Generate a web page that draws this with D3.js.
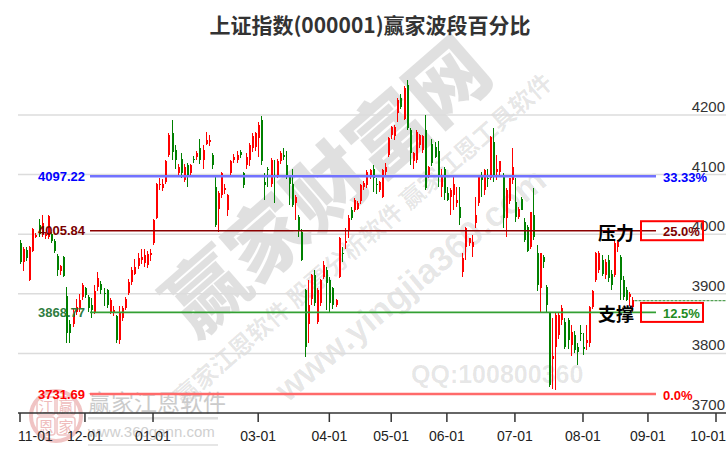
<!DOCTYPE html>
<html><head><meta charset="utf-8">
<script src="https://cdn.jsdelivr.net/npm/d3@7"></script>
<style>body{margin:0;background:#fff}svg{display:block}</style>
</head><body>
<svg id="c" width="726" height="450"></svg>
<script>
// ---------- data ----------
const opens = [3986,3954,3973,3923,3972,3995,4015,4001,3997,3996,4001,3989,3963,3939,3961,3896,3850,3850,3870,3876,
3895,3909,3895,3881,3870,3912,3917,3902,3906,3870,3869,3862,3822,3859,3876,3901,3919,3934,3946,3957,
3951,3948,3965,3985,4027,4083,4077,4088,4133,4169,4141,4102,4127,4091,4116,4102,4127,4130,4144,4124,
4152,4155,4133,4080,4043,4066,4075,4041,4102,4124,4124,4138,4102,4116,4125,4144,4147,4161,4192,4088,
4110,4085,4098,4099,4122,4133,4116,4097,4085,4052,4029,4004,3906,3850,3892,3931,3853,3884,3929,3940,
3923,3909,3881,3929,3968,3985,4007,4041,4041,4043,4055,4080,4083,4097,4110,4084,4074,4063,4105,4133,
4166,4164,4203,4229,4194,4250,4175,4122,4125,4150,4141,4175,4099,4152,4147,4140,4080,4110,4069,4063,
4066,4052,4046,3937,3979,3985,3979,4018,4052,4097,4074,4094,4094,4155,4105,4105,4099,4027,4055,4091,
4054,4029,4059,4021,4012,3979,4032,3968,3909,3962,3912,3867,3790,3811,3831,3856,3853,3856,3814,3831,
3811,3834,3811,3817,3817,3878,3923,3940,3957,3932,3957,3934,3932,3979,3962,3923,3906,3895,3878];
const highs = [3990,3978,3978,3981,4010,4002,4025,4033,4004,4032,4004,3992,3967,3949,3964,3912,3856,3875,3892,3900,
3918,3912,3898,3893,3914,3937,3922,3910,3908,3893,3880,3864,3880,3880,3895,3925,3945,3958,3968,3975,
3975,3972,3975,4026,4086,4095,4092,4124,4170,4191,4150,4118,4137,4117,4120,4118,4131,4140,4160,4150,
4172,4166,4137,4100,4072,4105,4085,4068,4125,4135,4140,4142,4105,4136,4153,4170,4172,4189,4198,4102,
4113,4128,4124,4126,4140,4144,4140,4100,4110,4066,4032,4008,3908,3923,3934,3940,3910,3925,3955,3945,
3928,3912,3892,3996,3979,4011,4032,4045,4060,4055,4085,4090,4108,4110,4116,4094,4090,4110,4119,4163,
4182,4183,4228,4235,4248,4259,4178,4138,4175,4168,4166,4200,4115,4160,4155,4156,4110,4113,4080,4077,
4097,4080,4080,3968,4012,3993,3999,4063,4097,4105,4110,4110,4165,4178,4133,4122,4102,4077,4094,4144,
4094,4046,4062,4027,4015,4038,4077,3982,3968,3965,3915,3868,3859,3867,3870,3881,3859,3860,3848,3838,
3817,3847,3834,3848,3880,3906,3970,3972,3965,3958,3965,3940,3990,3990,3965,3930,3912,3903,3895];
const lows = [3950,3938,3955,3921,3970,3993,3996,3995,3992,3992,3986,3969,3930,3932,3928,3817,3817,3845,3865,3870,
3890,3893,3870,3860,3866,3905,3900,3880,3877,3866,3862,3818,3816,3855,3872,3898,3915,3931,3942,3950,
3945,3943,3955,3982,4025,4075,4072,4085,4130,4125,4110,4098,4095,4088,4080,4100,4120,4125,4118,4110,
4150,4148,4110,4012,4004,4060,4068,4030,4098,4120,4120,4128,4078,4110,4115,4138,4140,4130,4116,4057,
4079,4080,4052,4095,4118,4124,4092,4049,4045,4023,3996,3955,3794,3817,3881,3880,3850,3880,3925,3873,
3870,3875,3878,3926,3954,3976,3993,4024,4038,4040,4050,4075,4078,4093,4071,4068,4070,4060,4100,4130,
4160,4158,4189,4210,4192,4175,4116,4110,4120,4145,4136,4074,4095,4115,4128,4080,4063,4057,4055,4032,
4041,4046,4015,3929,3957,3980,3962,4010,4048,4063,4066,4080,4091,4088,4091,4100,4010,3996,4050,4085,
4021,4025,4040,3987,3970,3976,3990,3904,3870,3943,3870,3744,3741,3738,3825,3848,3808,3808,3795,3800,
3780,3820,3797,3806,3810,3874,3920,3935,3930,3925,3920,3906,3928,3970,3890,3890,3888,3880,3870];
const closes = [3954,3976,3960,3979,4008,3999,4000,4019,4001,4030,3989,3971,3940,3946,3930,3834,3834,3870,3878,3890,
3915,3898,3876,3873,3904,3926,3906,3901,3881,3890,3872,3822,3870,3876,3891,3919,3940,3945,3960,3962,
3965,3966,3968,4024,4084,4085,4084,4122,4166,4138,4124,4113,4102,4113,4099,4116,4124,4136,4124,4141,
4158,4158,4116,4015,4069,4102,4077,4066,4122,4130,4133,4133,4082,4130,4150,4164,4169,4183,4122,4083,
4108,4124,4097,4122,4136,4130,4097,4085,4049,4063,4007,3957,3811,3881,3931,3884,3906,3923,3948,3918,
3884,3881,3890,3994,3966,3989,4027,4027,4057,4052,4082,4086,4105,4108,4094,4082,4088,4108,4113,4161,
4180,4180,4225,4214,4245,4178,4136,4136,4172,4166,4164,4077,4113,4119,4130,4096,4096,4069,4057,4074,
4085,4057,4027,3960,4010,3993,3987,4032,4097,4091,4108,4093,4163,4099,4110,4122,4027,4074,4094,4113,
4029,4043,4041,3990,3971,4038,3996,3915,3968,3954,3881,3747,3795,3864,3864,3877,3811,3823,3836,3806,
3803,3833,3808,3822,3878,3904,3968,3968,3934,3954,3926,3915,3985,3987,3923,3895,3890,3900,3889];

const tickIndex  = [0, 21, 43, 77, 100, 120, 138, 160, 182, 203, 225];
const tickLabels = ['11-01','12-01','01-01','03-01','04-01','05-01','06-01','07-01','08-01','09-01','10-01'];
const yTickValues = [3700, 3800, 3900, 4000, 4100, 4200];
const levelValues = [4097.22, 4005.84, 3868.77, 3731.69];
const levelLabels = ['4097.22', '4005.84', '3868.77', '3731.69'];
const levelPercents = ['33.33%', '25.0%', '12.5%', '0.0%'];
const levelNotes = ['', '压力', '支撑', ''];
const lastPrice = 3888.4;
const titleText = '上证指数(000001)赢家波段百分比';

// ---------- styles ----------
const levelLine = ['#7272ff', '#8b0000', '#33a033', '#ff6a6a'];
const levelText = ['#0000ff', '#7a0000', '#2f7d3f', '#ff0000'];
const levelWidth = [2.5, 1.6, 1.6, 2.5];
const boxed = [false, true, true, false];
const pctText = ['#0000ff', '#800000', '#228b22', '#ff0000'];

const svg = d3.select('#c');
const W = 726, H = 450;
svg.append('rect').attr('width', W).attr('height', H).attr('fill', '#fff');

const x = d3.scaleLinear().domain([0, 225]).range([20, 716]);
const y = d3.scaleLinear().domain([3700, 4200]).range([413, 115]);

// ---------- watermarks ----------
const wm = svg.append('g');
wm.append('text').attr('transform', 'translate(323,182) rotate(-41)')
  .attr('text-anchor', 'middle').attr('dominant-baseline', 'central')
  .attr('font-family', 'Noto Sans CJK SC').attr('font-weight', 900)
  .attr('font-size', 80).attr('fill', '#000').attr('fill-opacity', 0.12)
  .text('赢家财富网');
wm.append('text').attr('transform', 'translate(362,238) rotate(-41)')
  .attr('text-anchor', 'middle').attr('dominant-baseline', 'central')
  .attr('font-family', 'Noto Sans CJK SC').attr('font-weight', 700)
  .attr('font-size', 24).attr('fill', '#000').attr('fill-opacity', 0.1)
  .text('赢家江恩软件   股票分析软件   赢家江恩工具软件');
wm.append('text').attr('transform', 'translate(410,284) rotate(-40)')
  .attr('text-anchor', 'middle').attr('dominant-baseline', 'central')
  .attr('font-family', 'Liberation Sans').attr('font-weight', 700)
  .attr('font-size', 35).attr('fill', '#000').attr('fill-opacity', 0.1)
  .text('www.yingjia360.com');
wm.append('text').attr('x', 411).attr('y', 383)
  .attr('font-family', 'Liberation Sans').attr('font-weight', 700)
  .attr('font-size', 25).attr('fill', '#000').attr('fill-opacity', 0.1)
  .text('QQ:100800360');
// logo
const logo = wm.append('g');
logo.append('circle').attr('cx', 56).attr('cy', 416).attr('r', 25)
  .attr('fill', 'none').attr('stroke', '#f0c4c4').attr('stroke-width', 4);
const logoChars = [['江', 37, 397], ['赢', 57, 397], ['恩', 37, 417], ['家', 57, 417]];
logoChars.forEach(d => {
  logo.append('rect').attr('x', d[1]).attr('y', d[2]).attr('width', 18).attr('height', 18)
    .attr('rx', 3).attr('fill', 'none').attr('stroke', '#f0c4c4').attr('stroke-width', 1.5);
  logo.append('text').attr('x', d[1] + 9).attr('y', d[2] + 15).attr('text-anchor', 'middle')
    .attr('font-family', 'Noto Sans CJK SC').attr('font-size', 15).attr('fill', '#efbcbc').text(d[0]);
});
logo.append('text').attr('x', 88).attr('y', 411)
  .attr('font-family', 'Noto Sans CJK SC').attr('font-size', 23).attr('fill', '#cbcbcb')
  .text('赢家江恩软件');
logo.append('rect').attr('x', 88).attr('y', 417).attr('width', 130).attr('height', 2.5).attr('fill', '#dedede');
logo.append('text').attr('x', 88).attr('y', 437)
  .attr('font-family', 'Liberation Sans').attr('font-size', 15).attr('fill', '#cfcfcf')
  .text('www.360gann.com');
logo.append('rect').attr('x', 88).attr('y', 444).attr('width', 130).attr('height', 2).attr('fill', '#e6e6e6');

// ---------- grid & y labels ----------
svg.append('g').selectAll('line').data(yTickValues.filter(v => v > 3700)).join('line')
  .attr('x1', 18).attr('x2', W).attr('y1', d => y(d)).attr('y2', d => y(d))
  .attr('stroke', '#dcdcdc').attr('stroke-width', 1.5);
svg.append('g').selectAll('text').data(yTickValues).join('text')
  .attr('x', 725).attr('y', d => y(d) - 3).attr('text-anchor', 'end')
  .attr('font-family', 'Liberation Sans Narrow, Liberation Sans').attr('font-size', 15)
  .attr('fill', '#333').text(d => d);

// ---------- candles ----------
const candles = d3.range(opens.length).map(i => ({i, o: opens[i], h: highs[i], l: lows[i], c: closes[i]}));
const cg = svg.append('g').attr('shape-rendering', 'crispEdges');
const colorOf = d => d.c >= d.o ? '#ff0000' : '#008000';
const cx = d => Math.round(x(d.i));
cg.selectAll('line').data(candles).join('line')
  .attr('x1', d => cx(d) + 0.5).attr('x2', d => cx(d) + 0.5)
  .attr('y1', d => y(d.h)).attr('y2', d => y(d.l))
  .attr('stroke', colorOf).attr('stroke-width', 1);
cg.selectAll('rect').data(candles).join('rect')
  .attr('x', d => cx(d) - 0.5).attr('width', 2.6)
  .attr('y', d => y(Math.max(d.o, d.c)))
  .attr('height', d => Math.max(1, Math.abs(y(d.o) - y(d.c))))
  .attr('fill', colorOf);

// ---------- level lines ----------
const lv = svg.append('g');
levelValues.forEach((v, k) => {
  const yy = y(v);
  lv.append('line').attr('x1', 90).attr('x2', 656).attr('y1', yy).attr('y2', yy)
    .attr('stroke', levelLine[k]).attr('stroke-width', levelWidth[k]);
  lv.append('text').attr('x', 85).attr('y', yy).attr('dominant-baseline', 'central')
    .attr('text-anchor', 'end').attr('font-family', 'Liberation Sans').attr('font-weight', 700)
    .attr('font-size', 13).attr('fill', levelText[k]).text(levelLabels[k]);
  lv.append('text').attr('x', 663).attr('y', yy + 1).attr('dominant-baseline', 'central')
    .attr('font-family', 'Liberation Sans').attr('font-weight', 700)
    .attr('font-size', 13).attr('fill', pctText[k]).text(levelPercents[k]);
  if (boxed[k]) {
    lv.append('rect').attr('x', 641).attr('y', yy - 9.5).attr('width', 62).attr('height', 19)
      .attr('fill', 'none').attr('stroke', '#ff0000').attr('stroke-width', 2);
  }
  if (levelNotes[k]) {
    lv.append('text').attr('x', 598).attr('y', yy + 1).attr('dominant-baseline', 'central')
      .attr('font-family', 'Noto Sans CJK SC').attr('font-weight', 700)
      .attr('font-size', 18).attr('fill', '#000').text(levelNotes[k]);
  }
});
// last price dotted line
svg.append('line').attr('x1', x(opens.length - 1) + 2).attr('x2', W)
  .attr('y1', y(lastPrice)).attr('y2', y(lastPrice))
  .attr('stroke', '#2a8a2a').attr('stroke-width', 1).attr('stroke-dasharray', '3,1');

// ---------- x axis ----------
const ax = svg.append('g');
ax.append('line').attr('x1', 18).attr('x2', W).attr('y1', 413).attr('y2', 413)
  .attr('stroke', '#333').attr('stroke-width', 1.5);
ax.selectAll('line.t').data(tickIndex).join('line').attr('class', 't')
  .attr('x1', d => x(d)).attr('x2', d => x(d)).attr('y1', 413).attr('y2', 422)
  .attr('stroke', '#333').attr('stroke-width', 1.5);
ax.selectAll('text').data(tickIndex).join('text')
  .attr('x', d => x(d)).attr('y', 441).attr('text-anchor', 'middle')
  .attr('font-family', 'Liberation Sans Narrow, Liberation Sans').attr('font-size', 14)
  .attr('fill', '#222').text((d, k) => tickLabels[k])
  .each(function () {
    const w = this.getComputedTextLength();
    const c0 = +this.getAttribute('x');
    this.setAttribute('x', Math.max(18 + w / 2, Math.min(W - w / 2, c0)));
  });

// ---------- title ----------
svg.append('text').attr('x', 370).attr('y', 33).attr('text-anchor', 'middle')
  .attr('font-family', 'Noto Sans CJK SC').attr('font-weight', 700)
  .attr('font-size', 21).attr('fill', '#333').text(titleText);
</script>
</body></html>
